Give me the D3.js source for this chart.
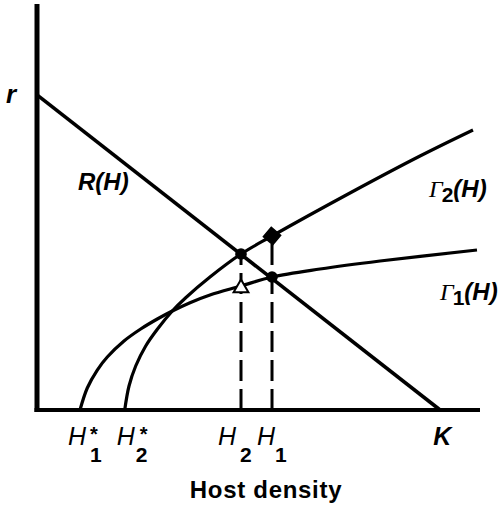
<!DOCTYPE html>
<meta charset="utf-8">
<script src="https://d3js.org/d3.v7.min.js"></script>
<style>body{margin:0;background:#fff}</style>
<svg id="chart" width="504" height="509"></svg>
<script>
// values, host density H and rate r both on a 0-100 scale
var rLine = [[0, 77.6], [91, 0]];
var gamma1 = [[9.7,0],[11.35,5.42],[13.61,9.85],[15.87,13.05],[19.64,17.0],[23.41,19.95],
  [27.16,22.41],[30.54,24.38],[34.54,26.43],[39.05,28.33],[46.05,30.54],[53.05,32.76],
  [63.88,34.73],[77.43,36.7],[99.32,39.41]];
var gamma2 = [[19.8,0],[20.77,5.91],[22.28,10.84],[24.54,15.76],[27.16,19.88],[30.54,24.38],
  [33.57,27.66],[39.05,32.76],[46.05,38.42],[53.05,42.86],[70.65,53.45],[86.46,62.56],[98.42,68.97]];
var hStar = [9.7, 19.8];        // H1*, H2*
var hEq = [46.05, 53.05];       // H2, H1
var kValue = 91;

var svg = d3.select("#chart");
var x = d3.scaleLinear().domain([0, 100]).range([37, 480]);
var y = d3.scaleLinear().domain([0, 100]).range([410, 4]);

var line = d3.line().x(function(d){ return x(d[0]); }).y(function(d){ return y(d[1]); });
var curve = d3.line().curve(d3.curveCatmullRom.alpha(0.5))
  .x(function(d){ return x(d[0]); }).y(function(d){ return y(d[1]); });

function rAt(series, h) {
  return series.find(function(d){ return d[0] === h; })[1];
}

// dashed drop lines, drawn from the axis upwards
svg.append("g").selectAll("line")
  .data([[hEq[0], rAt(gamma2, hEq[0])], [hEq[1], rAt(gamma2, hEq[1])]])
  .enter().append("line")
    .attr("x1", function(d){ return x(d[0]); })
    .attr("x2", function(d){ return x(d[0]); })
    .attr("y1", y(0))
    .attr("y2", function(d){ return y(d[1]); })
    .attr("stroke", "#000")
    .attr("stroke-width", 3)
    .attr("stroke-dasharray", "21,8");

svg.append("path").datum(gamma1).attr("d", curve)
  .attr("fill", "none").attr("stroke", "#000").attr("stroke-width", 3.2);
svg.append("path").datum(gamma2).attr("d", curve)
  .attr("fill", "none").attr("stroke", "#000").attr("stroke-width", 3.2);
svg.append("path").datum(rLine).attr("d", line)
  .attr("fill", "none").attr("stroke", "#000").attr("stroke-width", 3.6);

// axes
svg.append("line").attr("x1", x(0)).attr("x2", x(0)).attr("y1", y(100)).attr("y2", y(0) + 2)
  .attr("stroke", "#000").attr("stroke-width", 5);
svg.append("line").attr("x1", x(0) - 2.5).attr("x2", x(100)).attr("y1", y(0)).attr("y2", y(0))
  .attr("stroke", "#000").attr("stroke-width", 4);

// equilibrium markers
svg.append("g").selectAll("circle")
  .data([[hEq[0], rAt(gamma2, hEq[0])], [hEq[1], rAt(gamma1, hEq[1])]])
  .enter().append("circle")
    .attr("cx", function(d){ return x(d[0]); })
    .attr("cy", function(d){ return y(d[1]); })
    .attr("r", 5.8).attr("fill", "#000");

svg.append("path")
  .attr("d", d3.symbol(d3.symbolSquare, 150)())
  .attr("transform", "translate(" + x(hEq[1]) + "," + y(rAt(gamma2, hEq[1])) + ") rotate(40)")
  .attr("fill", "#000").attr("stroke", "#000").attr("stroke-width", 1.5);

svg.append("path")
  .attr("d", d3.symbol(d3.symbolTriangle, 95)())
  .attr("transform", "translate(" + x(hEq[0]) + "," + (y(rAt(gamma1, hEq[0])) + 2) + ")")
  .attr("fill", "#fff").attr("stroke", "#000").attr("stroke-width", 2);

// text
var sans = "'Liberation Sans', Arial, Helvetica, sans-serif";
var serif = "'Liberation Serif', 'Times New Roman', serif";

svg.append("text").attr("x", 6).attr("y", 103).text("r")
  .style("font-family", sans).style("font-weight", "bold").style("font-style", "italic").style("font-size", "26px");

svg.append("text").attr("x", 78).attr("y", 190).text("R(H)")
  .style("font-family", sans).style("font-weight", "bold").style("font-style", "italic").style("font-size", "24px");

function gammaLabel(px, py, sub) {
  var t = svg.append("text").attr("x", px).attr("y", py);
  t.append("tspan").text("\u0393").style("font-family", serif).style("font-style", "italic").style("font-size", "24px");
  t.append("tspan").text(sub).attr("dy", 5).attr("dx", -1).style("font-family", sans).style("font-weight", "bold").style("font-size", "21px");
  t.append("tspan").text("(H)").attr("dy", -5).style("font-family", sans).style("font-weight", "bold")
    .style("font-style", "italic").style("font-size", "24px");
}
gammaLabel(429, 197, "2");
gammaLabel(440, 300, "1");

// axis labels under the x axis
var tickLabels = [
  {v: hStar[0], sub: "1", star: true, dx: -12, sdx: 10, tdx: 10},
  {v: hStar[1], sub: "2", star: true, dx: -8, sdx: 11, tdx: 15},
  {v: hEq[0], sub: "2", star: false, dx: -23, sdx: -1},
  {v: hEq[1], sub: "1", star: false, dx: -15, sdx: 3}
];
tickLabels.forEach(function(d) {
  var px = x(d.v);
  svg.append("text").attr("x", px + d.dx).attr("y", 445).text("H")
    .style("font-family", sans).style("font-style", "italic").style("font-size", "25px");
  svg.append("text").attr("x", px + d.sdx).attr("y", 462).text(d.sub)
    .style("font-family", sans).style("font-weight", "bold").style("font-size", "21px");
  if (d.star) {
    svg.append("text").attr("x", px + d.tdx).attr("y", 441).text("*")
      .style("font-family", sans).style("font-weight", "bold").style("font-size", "20px");
  }
});

svg.append("text").attr("x", x(kValue) - 7).attr("y", 445).text("K")
  .style("font-family", sans).style("font-weight", "bold").style("font-style", "italic").style("font-size", "25px");

svg.append("text").attr("x", 266).attr("y", 498).attr("text-anchor", "middle").text("Host density")
  .style("font-family", sans).style("font-weight", "bold").style("font-size", "24px").style("letter-spacing", "0.7px");
</script>
